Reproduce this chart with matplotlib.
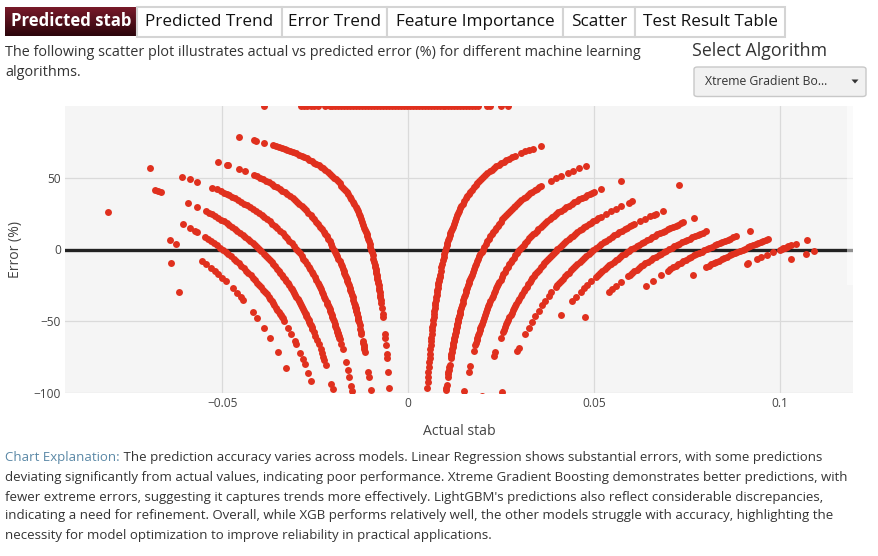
import numpy as np
import matplotlib
matplotlib.use('Agg')
import matplotlib.pyplot as plt
from matplotlib.patches import Rectangle, FancyBboxPatch, Polygon
from matplotlib.colors import LinearSegmentedColormap

plt.rcParams['font.family'] = ['Open Sans', 'DejaVu Sans']

# ---- data: actual stab values (units of 1e-4) grouped by predicted stab ----
act_m08 = [-616]
act_m07 = [-638]
act_m06 = [-809, -642, -626, -554, -545, -532, -521, -512, -500, -491, -472, -461, -451, -444,
           -419, -407, -388, -371, -351, -329]
act_m05 = [-606, -586, -575, -569, -547, -539, -531, -523, -515, -507, -499, -491, -484, -477,
           -470, -463, -456, -449, -442, -436, -430, -424, -418, -412, -406, -401, -396, -391,
           -386, -381, -376, -372, -368, -364, -360, -356, -352, -349, -346, -343, -340, -338,
           -334, -324, -315, -306, -302, -291, -284, -278, -269, -261]
act_m04 = [-682, -673, -665, -592, -568, -545, -537, -529, -521, -513, -505, -497, -489, -481,
           -474, -467, -460, -453, -446, -439, -432, -425, -419, -413, -407, -401, -395, -389,
           -383, -378, -373, -368, -363, -358, -353, -348, -344, -340, -336, -332, -328, -324,
           -320, -316, -313, -310, -307, -304, -301, -298, -295, -292, -289, -286, -283, -280,
           -278, -276, -274, -272, -270, -268, -266, -264, -262, -260, -258, -254, -250, -246,
           -241, -236, -233, -229, -226, -222, -207, -203]
act_m03 = [-696, -608, -588, -568, -527, -515, -505, -497, -489, -481, -473, -465, -457, -449,
           -441, -433, -425, -417, -409, -401, -394, -387, -380, -373, -366, -359, -352, -345,
           -338, -332, -326, -320, -314, -308, -302, -297, -292, -287, -282, -277, -272, -268,
           -264, -260, -256, -252, -248, -244, -241, -238, -235, -232, -229, -226, -223, -220,
           -218, -216, -214, -212, -210, -208, -206, -204, -202, -200, -198, -196, -194, -192,
           -191, -190, -189, -188, -187, -186, -185, -181, -177, -168, -163, -159, -154, -151]
act_m02 = [-512, -488, -486, -455, -440, -415, -407, -399, -391, -383, -375, -367, -360, -353,
           -346, -339, -332, -325, -318, -311, -305, -299, -293, -287, -281, -275, -269, -263,
           -258, -253, -248, -243, -238, -233, -228, -224, -220, -216, -212, -208, -204, -200,
           -197, -194, -191, -188, -185, -182, -179, -176, -174, -172, -170, -168, -166, -164,
           -162, -160, -158, -156, -154, -152, -150, -148, -146, -144, -143, -142, -141, -140,
           -139, -138, -136, -135, -134, -133, -131, -129, -127, -126, -122, -121, -120, -119,
           -118, -117, -108, -106, -101]
act_m01 = [-455, -415, -410, -388, -365, -357, -349, -341, -333, -325, -317, -309, -301, -294,
           -287, -280, -273, -266, -259, -253, -247, -241, -235, -229, -223, -217, -211, -205,
           -200, -195, -190, -185, -180, -175, -170, -166, -162, -158, -154, -150, -146, -142,
           -139, -136, -133, -130, -127, -124, -121, -118, -116, -114, -112, -110, -108, -106,
           -104, -102, -100, -98, -96, -94, -92, -90, -89, -88, -87, -86, -85, -84, -83, -82,
           -81, -80, -79, -78, -77, -76, -75, -74, -73, -71, -69, -68, -63, -62, -60, -58,
           -57, -54, -51]
act_p00 = [-388, -288, -280, -272, -261, -253, -243, -225, -212, -204, -196, -188, -180, -172,
           -164, -156, -148, -140, -132, -124, -116, -108, -100, -92, -84, -76, -68, -60, -52,
           -44, -36, -28, -20, -12, -4, 4, 12, 20, 28, 36, 44, 52, 60, 68, 76, 84, 92, 100,
           108, 116, 124, 132, 140, 148, 156, 164, 172, 180, 188, 212, 221, 248, 268]
act_p01 = [51, 52, 53, 54, 55, 56, 57, 58, 59, 60, 61, 62, 63, 64, 65, 66, 67, 68, 69, 70, 71,
           72, 73, 74, 75, 76, 77, 78, 79, 80, 81, 82, 83, 84, 85, 87, 89, 91, 93, 95, 97, 99,
           101, 103, 105, 107, 109, 111, 113, 115, 117, 119, 122, 125, 128, 131, 134, 137, 140,
           143, 147, 151, 155, 159, 163, 167, 171, 176, 181, 186, 191, 196, 201, 207, 213, 219,
           225, 231, 237, 243, 250, 257, 264, 271, 278, 288, 302, 315, 324, 335, 358]
act_p02 = [101, 102, 103, 106, 107, 108, 109, 110, 111, 114, 115, 116, 117, 118, 119, 120, 121,
           122, 123, 124, 125, 126, 127, 128, 129, 130, 131, 132, 133, 134, 135, 136, 137, 138,
           139, 140, 142, 144, 146, 148, 150, 152, 154, 156, 158, 160, 162, 164, 166, 168, 170,
           173, 176, 179, 182, 185, 188, 191, 194, 197, 200, 204, 208, 212, 216, 220, 224, 228,
           232, 236, 240, 244, 248, 253, 258, 263, 268, 273, 278, 283, 288, 293, 298, 304, 310,
           316, 322, 328, 334, 340, 346, 352, 356, 383, 398, 410, 430, 443, 459, 477]
act_p03 = [151, 162, 166, 176, 180, 182, 184, 186, 188, 190, 192, 194, 196, 198, 200, 203, 206,
           209, 212, 215, 218, 221, 224, 227, 230, 233, 236, 239, 242, 245, 248, 252, 256, 260,
           264, 268, 272, 276, 280, 284, 288, 292, 296, 300, 305, 310, 315, 320, 325, 330, 335,
           340, 345, 350, 356, 362, 368, 374, 380, 386, 392, 398, 404, 411, 418, 425, 432, 439,
           446, 453, 460, 467, 474, 481, 488, 495, 500, 517, 571]
act_p04 = [198, 230, 234, 248, 254, 257, 260, 263, 266, 269, 272, 275, 278, 281, 284, 287, 290,
           294, 298, 302, 306, 310, 314, 318, 322, 326, 330, 334, 338, 342, 346, 351, 356, 361,
           366, 371, 376, 381, 386, 391, 396, 401, 407, 413, 419, 425, 431, 437, 443, 449, 455,
           461, 467, 473, 479, 485, 491, 497, 504, 511, 518, 531, 545, 558, 572, 593, 602, 728]
act_p05 = [251, 293, 297, 315, 324, 333, 342, 351, 360, 369, 378, 385, 396, 401, 406, 411, 416,
           421, 426, 431, 437, 443, 449, 455, 461, 467, 473, 479, 485, 491, 498, 505, 512, 519,
           526, 533, 540, 547, 554, 561, 568, 575, 582, 589, 596, 603, 608, 624, 637, 649, 660,
           666, 685]
act_p06 = [412, 441, 450, 464, 473, 482, 491, 504, 510, 516, 522, 528, 534, 540, 546, 552, 558,
           564, 570, 576, 582, 588, 594, 600, 607, 614, 621, 628, 635, 642, 649, 656, 663, 670,
           677, 684, 691, 698, 705, 712, 719, 726, 733, 739, 768]
act_p07 = [476, 540, 549, 558, 572, 590, 596, 602, 608, 614, 620, 626, 632, 638, 645, 652, 659,
           666, 673, 680, 687, 694, 701, 708, 715, 722, 729, 736, 743, 750, 757, 764, 771, 778,
           785, 792, 801]
act_p08 = [639, 657, 680, 698, 705, 712, 719, 726, 733, 740, 747, 754, 761, 768, 775, 782, 789,
           796, 803, 810, 817, 824, 831, 838, 845, 852, 859, 866, 873, 882, 919]
act_p09 = [766, 801, 808, 815, 822, 829, 836, 843, 850, 857, 864, 871, 878, 885, 892, 899, 906,
           913, 920, 927, 934, 941, 948, 955, 962, 968]
act_p10 = [910, 914, 937, 948, 964, 982, 1000, 1004, 1008, 1012, 1018, 1022, 1029, 1043, 1072]
act_p11 = [1029, 1069, 1090]

pred_levels = [-0.08, -0.07, -0.06, -0.05, -0.04, -0.03, -0.02, -0.01, 0.0,
               0.01, 0.02, 0.03, 0.04, 0.05, 0.06, 0.07, 0.08, 0.09, 0.10, 0.11]
actual_groups = [act_m08, act_m07, act_m06, act_m05, act_m04, act_m03, act_m02, act_m01, act_p00,
                 act_p01, act_p02, act_p03, act_p04, act_p05, act_p06, act_p07, act_p08, act_p09,
                 act_p10, act_p11]

tab_names = ["Predicted stab", "Predicted Trend", "Error Trend", "Feature Importance",
             "Scatter", "Test Result Table"]
x_ticks = [-0.05, 0, 0.05, 0.1]
x_tick_labels = ["\u22120.05", "0", "0.05", "0.1"]
y_ticks = [-100, -50, 0, 50]
y_tick_labels = ["\u2212100", "\u221250", "0", "50"]

explanation_lines = [
    " The prediction accuracy varies across models. Linear Regression shows substantial errors, with some predictions",
    "deviating significantly from actual values, indicating poor performance. Xtreme Gradient Boosting demonstrates better predictions, with",
    "fewer extreme errors, suggesting it captures trends more effectively. LightGBM's predictions also reflect considerable discrepancies,",
    "indicating a need for refinement. Overall, while XGB performs relatively well, the other models struggle with accuracy, highlighting the",
    "necessity for model optimization to improve reliability in practical applications.",
]

# error (%) = (actual - predicted) / actual * 100
actual = np.concatenate([np.array(g) * 1e-4 for g in actual_groups])
pred = np.concatenate([np.full(len(g), p) for p, g in zip(pred_levels, actual_groups)])
error = (actual - pred) / actual * 100

# ---- figure ----
W, H = 879, 556
fig = plt.figure(figsize=(W / 100, H / 100), dpi=100)


def fx(x):
    return x / W


def fy(y):
    return 1 - y / H


# tabs
tab_edges = [5, 137, 282, 387, 563, 635, 785]
tab_top, tab_bot = 6.5, 36.5
for i, name in enumerate(tab_names):
    x0, x1 = tab_edges[i], tab_edges[i + 1]
    if i == 0:
        tax = fig.add_axes([fx(x0), fy(tab_bot), (x1 - x0) / W, (tab_bot - tab_top) / H])
        grad = np.linspace(0, 1, 64).reshape(-1, 1)
        cmap = LinearSegmentedColormap.from_list('tab', ['#7a1a2b', '#2c060c'])
        tax.imshow(grad, aspect='auto', cmap=cmap, extent=[0, 1, 0, 1], origin='upper')
        tax.axis('off')
        fig.text(fx((x0 + x1) / 2), fy(21.5), name, ha='center', va='center',
                 fontsize=12.1, color='white', fontweight='bold')
    else:
        fig.add_artist(Rectangle((fx(x0), fy(tab_bot)), (x1 - x0) / W, (tab_bot - tab_top) / H,
                                 transform=fig.transFigure, facecolor='white',
                                 edgecolor='#d4d4d4', lw=1.5))
        fig.text(fx((x0 + x1) / 2), fy(21.5), name, ha='center', va='center',
                 fontsize=12.3, color='#111111')

# intro text
fig.text(fx(5), fy(52), "The following scatter plot illustrates actual vs predicted error (%) for different machine learning",
         ha='left', va='center', fontsize=10.4, color='#333333')
fig.text(fx(5), fy(72), "algorithms.", ha='left', va='center', fontsize=10.4, color='#333333')

# algorithm selector
fig.text(fx(692), fy(51), "Select Algorithm", ha='left', va='center', fontsize=12.8, color='#333333')
fig.add_artist(FancyBboxPatch((fx(694), fy(96.5)), (866 - 694) / W, 29.5 / H,
                              boxstyle="round,pad=0,rounding_size=0.004",
                              transform=fig.transFigure, facecolor='#f1f1f1',
                              edgecolor='#c8c8c8', lw=1))
fig.text(fx(705), fy(81.5), "Xtreme Gradient Bo...", ha='left', va='center',
         fontsize=8.8, color='#333333')
fig.add_artist(Polygon([(fx(851.5), fy(79.5)), (fx(858.5), fy(79.5)), (fx(855), fy(83.5))],
                       closed=True, transform=fig.transFigure, facecolor='#333333',
                       edgecolor='none'))

# ---- scatter plot ----
ax = fig.add_axes([fx(65), fy(393.3), (853 - 65) / W, (393.3 - 105.7) / H])
ax.set_facecolor('#f5f5f5')
ax.set_xlim(-0.09235, 0.11962)
ax.set_ylim(-100, 100)
ax.set_xticks(x_ticks)
ax.set_xticklabels(x_tick_labels)
ax.set_yticks(y_ticks)
ax.set_yticklabels(y_tick_labels)
ax.tick_params(length=0, pad=3, labelsize=8.6, labelcolor='#444444')
ax.grid(True, color='#dadada', lw=0.9)
ax.set_axisbelow(True)
for s in ax.spines.values():
    s.set_visible(False)
ax.axhline(0, color='#222222', lw=2.4, zorder=2)

ax.scatter(actual, error, s=25, c='#e0301e', linewidths=0, zorder=3)

fig.text(fx(16), fy(249), "Error (%)", rotation=90, ha='center', va='center',
         fontsize=10.1, color='#444444')
fig.text(fx(459), fy(431.5), "Actual stab", ha='center', va='center',
         fontsize=10.1, color='#444444')

# light strip on the right edge of the plot
fig.add_artist(Rectangle((fx(847), fy(285)), 6 / W, (285 - 106) / H, transform=fig.transFigure,
                         facecolor='white', alpha=0.5, edgecolor='none', zorder=10))

# ---- explanation ----
line_y = [458, 477.5, 497, 516, 535.5]
renderer = fig.canvas.get_renderer()
head = fig.text(fx(5), fy(line_y[0]), "Chart Explanation:", ha='left', va='center',
                fontsize=9.5, color='#5a88a6')
bb = head.get_window_extent(renderer)
fig.text(bb.x1 / W, fy(line_y[0]), explanation_lines[0], ha='left', va='center',
         fontsize=9.5, color='#333333')
for y, line in zip(line_y[1:], explanation_lines[1:]):
    fig.text(fx(5), fy(y), line, ha='left', va='center', fontsize=9.5, color='#333333')

fig.savefig('out.png', dpi=100)
